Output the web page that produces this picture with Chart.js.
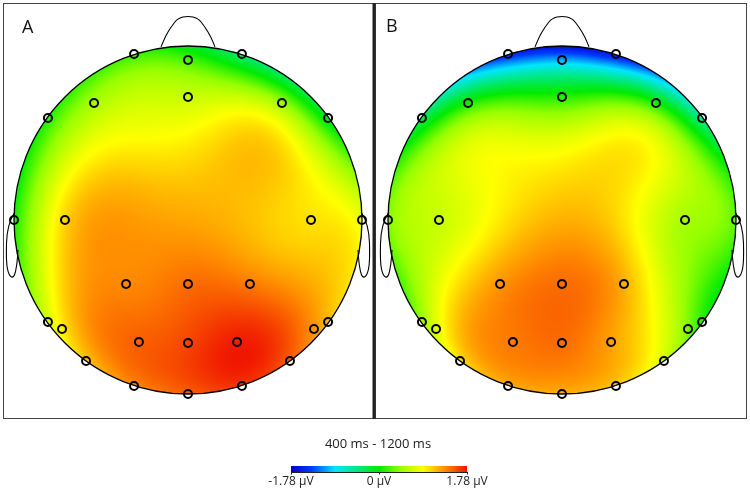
<!DOCTYPE html>
<html><head><meta charset="utf-8">
<script src="https://cdn.jsdelivr.net/npm/chart.js@4.4.1/dist/chart.umd.min.js"></script>
<style>html,body{margin:0;padding:0;background:#fff}canvas{display:block}</style>
</head><body>
<canvas id="c" width="750" height="493"></canvas>
<script>
// ---- data ----
const electrodeNames = ['Fp1','Fpz','Fp2','F7','F3','Fz','F4','F8','T7','C3','C4','T8','CP3','CPz','CP4','P7','TP9','P3','Pz','P4','TP10','P8','PO7','PO8','O1','Oz','O2'];
const electrodeX = [-0.310,0,0.310,-0.805,-0.540,0,0.540,0.805,-1,-0.707,0.707,1,-0.356,0,0.356,-0.805,-0.724,-0.282,0,0.282,0.724,0.805,-0.586,0.586,-0.310,0,0.310];
const electrodeY = [0.954,0.920,0.954,0.586,0.672,0.707,0.672,0.586,0,0,0,0,-0.368,-0.368,-0.368,-0.586,-0.626,-0.701,-0.707,-0.701,-0.626,-0.586,-0.810,-0.810,-0.954,-1,-0.954];
const valuesA = [0.15,0.2,-0.4,0.1,0.5,0.65,0.45,-0.1,0.05,1.05,1.0,0.8,1.35,1.45,1.4,0.7,0.95,1.5,1.6,1.75,1.3,1.15,1.1,1.5,1.35,1.5,1.65];
const valuesB = [-1.5,-1.05,-1.6,-0.3,0.05,0.1,0.05,-0.5,0.35,0.65,0.5,0.25,1.3,1.45,1.2,0.45,0.75,1.4,1.45,1.25,0.35,0.1,1.0,0.7,1.2,1.2,1.1];
const panelLabels = ['A','B'];
const timeWindowLabel = '400 ms - 1200 ms';
const scaleMin = -1.78, scaleMax = 1.78;
const colorbarTickLabels = ['-1.78 \u03bcV','0 \u03bcV','1.78 \u03bcV'];

// ---- geometry (head radius = 1 data unit) ----
const PX = 174, CXA = 188, CY = 220, CXB = 562;
const offB = (CXB - CXA) / PX;
const panels = [{offset:0, values:valuesA, label:panelLabels[0]}, {offset:offB, values:valuesB, label:panelLabels[1]}];

// ---- spherical spline interpolation (Perrin) ----
function toSphere(x,y){ const r=Math.hypot(x,y), th=r*Math.PI/2, ph=Math.atan2(y,x); return [Math.sin(th)*Math.cos(ph), Math.sin(th)*Math.sin(ph), Math.cos(th)]; }
const LUTN = 4000, LUT = new Float64Array(LUTN+1);
(function(){
  const m=3, N=60;
  for (let k=0;k<=LUTN;k++){
    const x=-1+2*k/LUTN; let p0=1, p1=x, s=0;
    for (let n=1;n<=N;n++){
      s += (2*n+1)/Math.pow(n*(n+1),m)*p1;
      const p2=((2*n+1)*x*p1 - n*p0)/(n+1); p0=p1; p1=p2;
    }
    LUT[k]=s/(4*Math.PI);
  }
})();
function gs(c){ c=Math.max(-1,Math.min(1,c)); const f=(c+1)/2*LUTN, k=Math.min(LUTN-1,Math.floor(f)), t=f-k; return LUT[k]*(1-t)+LUT[k+1]*t; }
const E = electrodeX.map((x,i)=>toSphere(x,electrodeY[i]));
function dot(a,b){ return a[0]*b[0]+a[1]*b[1]+a[2]*b[2]; }
function fitSpline(vals){
  const n=vals.length, A=[];
  for (let i=0;i<n;i++){ const row=[]; for (let j=0;j<n;j++) row.push(gs(dot(E[i],E[j]))); row.push(1); row.push(vals[i]); A.push(row); }
  const last=[]; for (let j=0;j<n;j++) last.push(1); last.push(0); last.push(0); A.push(last);
  const M=n+1;
  for (let c=0;c<M;c++){
    let p=c; for (let r=c+1;r<M;r++) if (Math.abs(A[r][c])>Math.abs(A[p][c])) p=r;
    [A[c],A[p]]=[A[p],A[c]];
    for (let r=0;r<M;r++){ if (r===c) continue; const f=A[r][c]/A[c][c]; if (f===0) continue; for (let k=c;k<=M;k++) A[r][k]-=f*A[c][k]; }
  }
  const sol=A.map((row,i)=>row[M]/row[i]);
  return {C:sol.slice(0,n), c0:sol[n]};
}
function evalSpline(w,x,y){ const p=toSphere(x,y); let s=w.c0; for (let j=0;j<w.C.length;j++) s+=w.C[j]*gs(dot(p,E[j])); return s; }

const cstops = [[0,[0,0,200]],[0.12,[0,60,255]],[0.25,[0,230,255]],[0.5,[0,235,0]],[0.62,[150,255,0]],[0.75,[255,255,0]],[0.875,[255,140,0]],[1,[240,20,0]]];
function cmap(t){
  t=Math.max(0,Math.min(1,t));
  for (let i=1;i<cstops.length;i++){ if (t<=cstops[i][0]){ const a=cstops[i-1], b=cstops[i]; const f=(t-a[0])/(b[0]-a[0]); return [0,1,2].map(k=>Math.round(a[1][k]+f*(b[1][k]-a[1][k]))); } }
  return cstops[cstops.length-1][1];
}

const noseX = [-0.155,-0.132,-0.098,-0.057,0,0.057,0.098,0.132,0.155];
const noseY = [0.995,1.052,1.109,1.161,1.172,1.161,1.109,1.052,0.995];
const earX = [-0.995,-1.040,-1.046,-1.029,-1.0,-0.983,-0.977];
const earY = [0.046,-0.023,-0.241,-0.322,-0.333,-0.259,-0.172];

function smoothPath(ctx, pts){
  ctx.moveTo(pts[0][0],pts[0][1]);
  for (let i=1;i<pts.length-1;i++){ const mx=(pts[i][0]+pts[i+1][0])/2, my=(pts[i][1]+pts[i+1][1])/2; ctx.quadraticCurveTo(pts[i][0],pts[i][1],mx,my); }
  const l=pts[pts.length-1]; ctx.lineTo(l[0],l[1]);
}

const topoPlugin = {
  id:'topo',
  beforeDatasetsDraw(chart){
    const ctx = chart.ctx, xs = chart.scales.x, ys = chart.scales.y;
    const R = xs.getPixelForValue(1) - xs.getPixelForValue(0);
    panels.forEach(p=>{
      const w = fitSpline(p.values);
      const cx = xs.getPixelForValue(p.offset), cy = ys.getPixelForValue(0);
      const x0 = Math.floor(cx-R-2), y0 = Math.floor(cy-R-2), sz = Math.ceil(2*R+5);
      const off = document.createElement('canvas'); off.width=sz; off.height=sz;
      const octx = off.getContext('2d'); const img = octx.createImageData(sz,sz);
      for (let j=0;j<sz;j++){
        const v = ys.getValueForPixel(y0+j+0.5);
        for (let i=0;i<sz;i++){
          const u = xs.getValueForPixel(x0+i+0.5) - p.offset;
          if (u*u+v*v <= 1.0){
            const val = evalSpline(w,u,v);
            const c = cmap((val-scaleMin)/(scaleMax-scaleMin));
            const k=(j*sz+i)*4; img.data[k]=c[0]; img.data[k+1]=c[1]; img.data[k+2]=c[2]; img.data[k+3]=255;
          }
        }
      }
      octx.putImageData(img,0,0);
      ctx.drawImage(off,x0,y0);
      ctx.save();
      ctx.strokeStyle='#000'; ctx.lineWidth=1.3;
      ctx.beginPath(); ctx.arc(cx,cy,R,0,Math.PI*2); ctx.stroke();
      ctx.lineWidth=1.1;
      ctx.beginPath(); smoothPath(ctx, noseX.map((x,i)=>[xs.getPixelForValue(x+p.offset), ys.getPixelForValue(noseY[i])])); ctx.stroke();
      [1,-1].forEach(s=>{ ctx.beginPath(); smoothPath(ctx, earX.map((x,i)=>[xs.getPixelForValue(s*x+p.offset), ys.getPixelForValue(earY[i])])); ctx.stroke(); });
      ctx.restore();
    });
  },
  afterDraw(chart){
    const ctx = chart.ctx;
    ctx.save();
    ctx.strokeStyle='#444'; ctx.lineWidth=1;
    ctx.strokeRect(3.5,3.5,370,415);
    ctx.strokeRect(375.5,3.5,371,415);
    ctx.fillStyle='#222'; ctx.fillRect(372.5,3,3,416);
    ctx.fillStyle='#111';
    ctx.font='18px "Open Sans", sans-serif'; ctx.textBaseline='alphabetic'; ctx.textAlign='left';
    ctx.fillText(panels[0].label, 22, 33);
    ctx.fillText(panels[1].label, 386, 32);
    ctx.font='13px "Open Sans", sans-serif'; ctx.textAlign='center';
    ctx.fillStyle='#222';
    ctx.fillText(timeWindowLabel, 378, 448);
    const bx0=291, bx1=467, by=466, bh=6;
    for (let x=bx0;x<bx1;x++){ const c=cmap((x-bx0+0.5)/(bx1-bx0)); ctx.fillStyle=`rgb(${c[0]},${c[1]},${c[2]})`; ctx.fillRect(x,by,1,bh); }
    ctx.strokeStyle='#222'; ctx.lineWidth=1;
    ctx.beginPath(); ctx.moveTo(bx0,by+bh+0.5); ctx.lineTo(bx1,by+bh+0.5);
    [bx0,(bx0+bx1)/2,bx1].forEach(x=>{ ctx.moveTo(Math.round(x)+0.5,by+bh); ctx.lineTo(Math.round(x)+0.5,by+bh+2.5); });
    ctx.stroke();
    ctx.fillStyle='#222'; ctx.font='12px "Open Sans", sans-serif';
    [bx0,(bx0+bx1)/2,bx1].forEach((x,i)=>ctx.fillText(colorbarTickLabels[i], x, 485));
    ctx.restore();
  }
};

const pointsA = electrodeX.map((x,i)=>({x:x, y:electrodeY[i]}));
const pointsB = electrodeX.map((x,i)=>({x:x+offB, y:electrodeY[i]}));
const pointStyle = {pointRadius:4, pointBorderWidth:2, pointBorderColor:'#000', pointBackgroundColor:'rgba(0,0,0,0)', showLine:false, clip:false};

new Chart(document.getElementById('c'), {
  type:'scatter',
  data:{datasets:[Object.assign({label:'A', data:pointsA}, pointStyle), Object.assign({label:'B', data:pointsB}, pointStyle)]},
  options:{
    responsive:false, animation:false, devicePixelRatio:1, events:[],
    layout:{padding:0, autoPadding:false},
    plugins:{legend:{display:false}, tooltip:{enabled:false}, title:{display:false}},
    scales:{
      x:{type:'linear', display:false, min:-CXA/PX, max:(750-CXA)/PX},
      y:{type:'linear', display:false, min:-(493-CY)/PX, max:CY/PX}
    }
  },
  plugins:[topoPlugin]
});
</script>
</body></html>
